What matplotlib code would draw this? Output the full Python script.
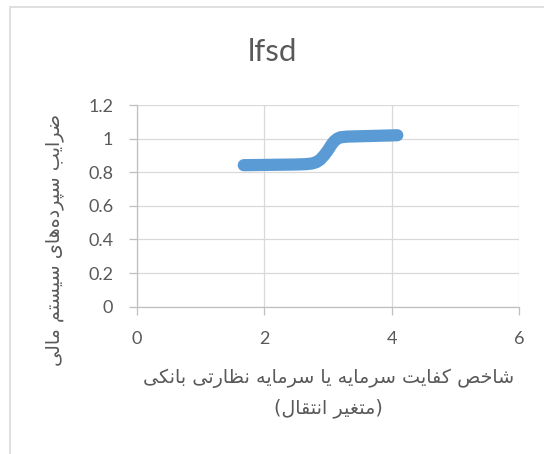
import matplotlib
matplotlib.use("Agg")
import matplotlib.pyplot as plt
from matplotlib.patches import Rectangle

# Données de la courbe de transition (lfsd)
x_vals = [1.68, 1.9, 2.1, 2.3, 2.5, 2.65, 2.75, 2.82, 2.88, 2.94,
          3.0, 3.05, 3.1, 3.15, 3.2, 3.3, 3.5, 3.7, 3.9, 4.09]
y_vals = [0.842, 0.843, 0.844, 0.845, 0.846, 0.848, 0.852, 0.86, 0.875, 0.90,
          0.93, 0.96, 0.985, 1.0, 1.008, 1.012, 1.014, 1.016, 1.018, 1.02]

x_ticks = [0, 2, 4, 6]
y_ticks = [0, 0.2, 0.4, 0.6, 0.8, 1, 1.2]
y_tick_labels = ["0", "0.2", "0.4", "0.6", "0.8", "1", "1.2"]

title = "lfsd"
y_label = "ضرایب سپرده\u200cهای سیستم مالی"
x_label_1 = "شاخص کفایت سرمایه یا سرمایه نظارتی بانکی"
x_label_2 = "(متغیر انتقال)"

# Formes contextuelles : (isolée, finale, initiale, médiane)
FORMES = {
    "ا": ("\uFE8D", "\uFE8E"), "آ": ("\uFE81", "\uFE82"),
    "د": ("\uFEA9", "\uFEAA"), "ذ": ("\uFEAB", "\uFEAC"),
    "ر": ("\uFEAD", "\uFEAE"), "ز": ("\uFEAF", "\uFEB0"),
    "ژ": ("\uFB8A", "\uFB8B"), "و": ("\uFEED", "\uFEEE"),
    "ب": ("\uFE8F", "\uFE90", "\uFE91", "\uFE92"),
    "پ": ("\uFB56", "\uFB57", "\uFB58", "\uFB59"),
    "ت": ("\uFE95", "\uFE96", "\uFE97", "\uFE98"),
    "خ": ("\uFEA5", "\uFEA6", "\uFEA7", "\uFEA8"),
    "س": ("\uFEB1", "\uFEB2", "\uFEB3", "\uFEB4"),
    "ش": ("\uFEB5", "\uFEB6", "\uFEB7", "\uFEB8"),
    "ص": ("\uFEB9", "\uFEBA", "\uFEBB", "\uFEBC"),
    "ض": ("\uFEBD", "\uFEBE", "\uFEBF", "\uFEC0"),
    "ظ": ("\uFEC5", "\uFEC6", "\uFEC7", "\uFEC8"),
    "غ": ("\uFECD", "\uFECE", "\uFECF", "\uFED0"),
    "ف": ("\uFED1", "\uFED2", "\uFED3", "\uFED4"),
    "ق": ("\uFED5", "\uFED6", "\uFED7", "\uFED8"),
    "ک": ("\uFB8E", "\uFB8F", "\uFB90", "\uFB91"),
    "ل": ("\uFEDD", "\uFEDE", "\uFEDF", "\uFEE0"),
    "م": ("\uFEE1", "\uFEE2", "\uFEE3", "\uFEE4"),
    "ن": ("\uFEE5", "\uFEE6", "\uFEE7", "\uFEE8"),
    "ه": ("\uFEE9", "\uFEEA", "\uFEEB", "\uFEEC"),
    "ی": ("\uFBFC", "\uFBFD", "\uFBFE", "\uFBFF"),
}
MIROIR = {"(": ")", ")": "("}


def persan(texte):
    # lie les lettres puis remet la ligne dans l'ordre d'affichage
    sortie = []
    for i, c in enumerate(texte):
        if c not in FORMES:
            if c != "\u200c":
                sortie.append(MIROIR.get(c, c))
            continue
        prec = texte[i - 1] if i > 0 else ""
        suiv = texte[i + 1] if i + 1 < len(texte) else ""
        lie_avant = prec in FORMES and len(FORMES[prec]) == 4
        lie_apres = suiv in FORMES and len(FORMES[c]) == 4
        f = FORMES[c]
        if lie_avant and lie_apres:
            sortie.append(f[3])
        elif lie_avant:
            sortie.append(f[1])
        elif lie_apres:
            sortie.append(f[2])
        else:
            sortie.append(f[0])
    return "".join(reversed(sortie))


W, H = 544, 454
gris_texte = "#595959"
gris_grille = "#D9D9D9"
gris_axe = "#BFBFBF"

fig = plt.figure(figsize=(W / 100, H / 100), dpi=100)
fig.patch.set_facecolor("white")

# Cadre du graphique
fig.patches.append(Rectangle((10 / W, -0.05), 1.2, 1 - 7 / H + 0.05,
                             transform=fig.transFigure, fill=False,
                             edgecolor=gris_grille, linewidth=1.2))

ax = fig.add_axes([136.7 / W, 1 - 306.7 / H, (519 - 136.7) / W, (306.7 - 105) / H])
ax.plot(x_vals, y_vals, color="#5B9BD5", linewidth=8.8,
        solid_capstyle="round", solid_joinstyle="round", zorder=3)

ax.set_xlim(0, 6)
ax.set_ylim(0, 1.2)
ax.set_xticks(x_ticks)
ax.set_yticks(y_ticks)
ax.set_yticklabels(y_tick_labels)
ax.grid(True, color=gris_grille, linewidth=0.9)
ax.set_axisbelow(True)

for cote in ["top", "right"]:
    ax.spines[cote].set_visible(False)
for cote in ["left", "bottom"]:
    ax.spines[cote].set_color(gris_axe)
    ax.spines[cote].set_linewidth(0.9)

ax.tick_params(axis="both", colors=gris_axe, length=5.8, width=0.9,
               labelcolor=gris_texte, labelsize=13)
ax.tick_params(axis="y", pad=11)
ax.tick_params(axis="x", pad=12)
for lab in ax.get_xticklabels() + ax.get_yticklabels():
    lab.set_family("Lato")

fig.text(272 / W, 1 - 52 / H, title, ha="center", va="center",
         fontsize=22.5, color=gris_texte, family="Lato")

fig.text(55 / W, 1 - 240 / H, persan(y_label), rotation=90, ha="center",
         va="center", fontsize=13.8, color=gris_texte, family="DejaVu Sans")
fig.text(329 / W, 1 - 378 / H, persan(x_label_1), ha="center", va="center",
         fontsize=13.8, color=gris_texte, family="DejaVu Sans")
fig.text(328 / W, 1 - 408 / H, persan(x_label_2), ha="center", va="center",
         fontsize=13.8, color=gris_texte, family="DejaVu Sans")

fig.savefig("out.png", dpi=100)
